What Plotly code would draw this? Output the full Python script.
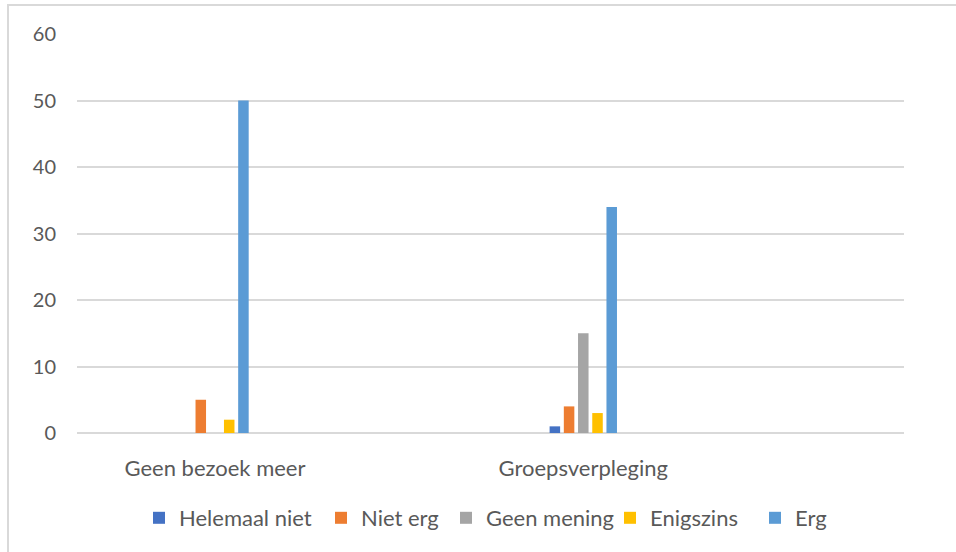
import plotly.graph_objects as go

categories = ["Geen bezoek meer", "Groepsverpleging"]
series_names = ["Helemaal niet", "Niet erg", "Geen mening", "Enigszins", "Erg"]
helemaal_niet = [0, 1]
niet_erg = [5, 4]
geen_mening = [0, 15]
enigszins = [2, 3]
erg = [50, 34]
y_ticks = [0, 10, 20, 30, 40, 50, 60]

series_values = [helemaal_niet, niet_erg, geen_mening, enigszins, erg]
colors = ["#4472C4", "#ED7D31", "#A5A5A5", "#FFC000", "#5B9BD5"]

W, H = 956, 552
ML, MR, MT, MB = 77, 52, 34, 119
PW = W - ML - MR
PH = H - MT - MB

def px_to_paper_x(px):
    return (px - ML) / PW

def px_to_paper_y(py):
    return (H - MB - py) / PH

fig = go.Figure()
legend_names = ["legend", "legend2", "legend3", "legend4", "legend5"]
for name, vals, col, lg in zip(series_names, series_values, colors, legend_names):
    fig.add_trace(go.Bar(name=name, x=categories, y=vals, marker=dict(color=col, line=dict(width=0)),
                         legend=lg, showlegend=True))

font_family = "Lato, 'Open Sans', sans-serif"
text_col = "#595959"

# legend text start positions (px) from reference
legend_text_x = [179, 361, 486, 650, 795]
legend_cfg = {}
for lg, tx in zip(legend_names, legend_text_x):
    legend_cfg[lg] = dict(
        x=px_to_paper_x(tx - 40), xanchor="left",
        y=px_to_paper_y(518), yanchor="middle",
        orientation="h", bgcolor="rgba(0,0,0,0)",
        font=dict(family=font_family, size=22, color=text_col),
        borderwidth=0, itemclick=False, visible=True,
    )

fig.update_layout(
    width=W, height=H,
    margin=dict(l=ML, r=MR, t=MT, b=MB, autoexpand=False),
    paper_bgcolor="white", plot_bgcolor="white",
    showlegend=True,
    barmode="group", bargap=0.807, bargroupgap=0.26,
    font=dict(family=font_family, color=text_col),
    **legend_cfg,
    xaxis=dict(type="category", range=[-0.3747, 1.8708], showgrid=False, showline=False,
               ticks="", tickfont=dict(family=font_family, size=22, color=text_col),
               ticklabelstandoff=20, fixedrange=True),
    yaxis=dict(range=[0, 60], tickvals=y_ticks, showgrid=True, gridcolor="#D9D9D9", gridwidth=1.5,
               zeroline=True, zerolinecolor="#D9D9D9", zerolinewidth=1.5, showline=False,
               ticks="", tickfont=dict(family=font_family, size=20, color=text_col),
               ticklabelstandoff=20, fixedrange=True),
    shapes=[dict(type="rect", xref="paper", yref="paper",
                 x0=px_to_paper_x(8), x1=px_to_paper_x(1000),
                 y0=px_to_paper_y(600), y1=px_to_paper_y(5),
                 line=dict(color="#D9D9D9", width=2), fillcolor="rgba(0,0,0,0)", layer="below")],
)

fig.write_html("out.html")
